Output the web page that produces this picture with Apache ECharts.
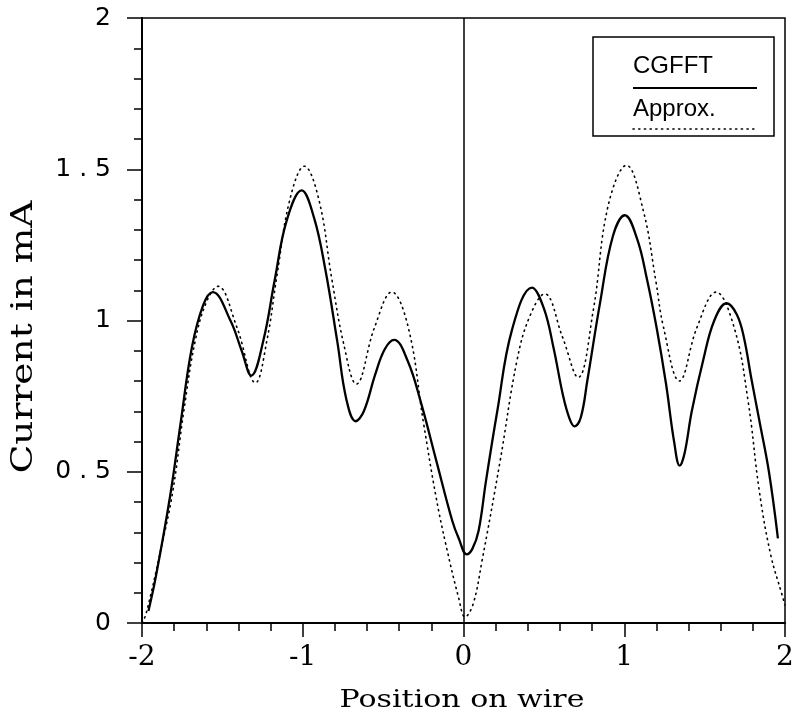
<!DOCTYPE html>
<html>
<head>
<meta charset="utf-8">
<script src="https://cdn.jsdelivr.net/npm/echarts@6/dist/echarts.min.js"></script>
<style>
html,body{margin:0;padding:0;background:#fff;}
#chart{width:798px;height:722px;}
</style>
</head>
<body>
<div id="chart"></div>
<script>
// CGFFT (solid) curve
const cgfftX = [-1.96,-1.915,-1.825,-1.76,-1.69,-1.62,-1.56,-1.45,-1.38,-1.32,-1.245,-1.175,-1.10,-1.007,-0.93,-0.86,-0.785,-0.729,-0.671,-0.62,-0.55,-0.49,-0.431,-0.347,-0.268,-0.169,-0.07,-0.03,0.02,0.055,0.094,0.14,0.21,0.302,0.426,0.50,0.56,0.62,0.66,0.691,0.73,0.77,0.85,0.93,1.004,1.08,1.14,1.20,1.26,1.31,1.345,1.375,1.42,1.49,1.56,1.637,1.70,1.744,1.79,1.84,1.90,1.956];
const cgfftY = [0.04,0.15,0.42,0.66,0.91,1.05,1.094,1.0,0.90,0.818,0.934,1.132,1.33,1.43,1.34,1.17,0.93,0.74,0.667,0.70,0.82,0.905,0.936,0.866,0.735,0.536,0.338,0.28,0.227,0.245,0.305,0.47,0.70,0.97,1.109,1.04,0.91,0.75,0.675,0.65,0.68,0.80,1.06,1.28,1.348,1.27,1.14,0.98,0.79,0.60,0.52,0.56,0.70,0.866,1.00,1.057,1.02,0.945,0.81,0.67,0.50,0.28];
// Approx. (dotted) curve
const approxX = [-2.0,-1.975,-1.88,-1.81,-1.74,-1.67,-1.60,-1.528,-1.41,-1.294,-1.223,-1.16,-1.08,-0.99,-0.90,-0.82,-0.745,-0.667,-0.553,-0.446,-0.344,-0.249,-0.172,-0.11,-0.03,0.01,0.06,0.115,0.228,0.332,0.41,0.505,0.616,0.713,0.807,0.90,1.014,1.12,1.196,1.244,1.343,1.453,1.571,1.683,1.77,1.84,1.91,1.98,2.0];
const approxY = [0.0,0.03,0.25,0.43,0.70,0.93,1.06,1.113,0.978,0.794,0.934,1.15,1.40,1.51,1.40,1.14,0.922,0.79,0.978,1.094,0.978,0.662,0.42,0.26,0.083,0.02,0.063,0.205,0.536,0.866,1.011,1.088,0.945,0.812,1.033,1.38,1.513,1.36,1.132,0.978,0.80,0.978,1.094,0.978,0.735,0.437,0.228,0.096,0.06];
const xTicks = [-2,-1,0,1,2];
const yTicks = [0,0.5,1,1.5,2];
const seriesNames = ['CGFFT','Approx.'];
const xTitle = 'Position on wire';
const yTitle = 'Current in mA';

const pairs = (xs, ys) => xs.map((x, i) => [x, ys[i]]);

const chart = echarts.init(document.getElementById('chart'), null, {renderer:'canvas'});
const serif = '"DejaVu Serif", serif';
const sans = '"DejaVu Sans", sans-serif';

chart.setOption({
  animation: false,
  backgroundColor: '#fff',
  grid: {left: 142, right: 13, top: 18, bottom: 99, show: true, borderColor: '#000', borderWidth: 1.5, backgroundColor: 'transparent'},
  xAxis: {
    type: 'value', min: xTicks[0], max: xTicks[xTicks.length-1], interval: 1,
    axisLine: {show: true, onZero: false, lineStyle: {color: '#000', width: 2}},
    axisTick: {show: true, inside: false, length: 14, lineStyle: {color: '#000', width: 1.5}},
    minorTick: {show: true, splitNumber: 5, length: 8, lineStyle: {color: '#000', width: 1.5}},
    splitLine: {show: false},
    axisLabel: {fontFamily: serif, fontSize: 28, color: '#000', margin: 21, showMaxLabel: true, showMinLabel: true}
  },
  yAxis: {
    type: 'value', min: yTicks[0], max: yTicks[yTicks.length-1], interval: 0.5,
    axisLine: {show: true, onZero: false, lineStyle: {color: '#000', width: 2}},
    axisTick: {show: true, inside: false, length: 15, lineStyle: {color: '#000', width: 1.5}},
    minorTick: {show: true, splitNumber: 5, length: 8, lineStyle: {color: '#000', width: 1.5}},
    splitLine: {show: false},
    axisLabel: {fontFamily: sans, fontSize: 25, color: '#000', margin: 31,
      formatter: v => String(v).replace('.', ' . ')}
  },
  series: [
    {
      name: seriesNames[1], type: 'line', data: pairs(approxX, approxY),
      showSymbol: false, smooth: 0.4, clip: true,
      lineStyle: {color: '#000', width: 1.6, type: [1.2, 4.5], cap: 'round'}
    },
    {
      name: seriesNames[0], type: 'line', data: pairs(cgfftX, cgfftY),
      showSymbol: false, smooth: 0.4, clip: true,
      lineStyle: {color: '#000', width: 2.3},
      markLine: {silent: true, symbol: 'none', label: {show: false},
        lineStyle: {color: '#000', width: 1.5, type: 'solid'},
        data: [{xAxis: 0}]}
    }
  ],
  graphic: [
    {type: 'text', x: 462, y: 700, style: {text: xTitle, font: '25px ' + serif, fill: '#000', align: 'center', verticalAlign: 'middle'}, scaleX: 1.2},
    {type: 'text', x: 24, y: 337, rotation: Math.PI / 2, style: {text: yTitle, font: '30px ' + serif, fill: '#000', align: 'center', verticalAlign: 'middle'}, scaleX: 1.25},
    {type: 'rect', shape: {x: 593, y: 37, width: 181, height: 99},
     style: {fill: '#fff', stroke: '#000', lineWidth: 1.5}},
    {type: 'text', x: 633, y: 54, style: {text: seriesNames[0], font: '24px "Liberation Sans", sans-serif', fill: '#000'}},
    {type: 'line', shape: {x1: 633, y1: 88, x2: 757, y2: 88}, style: {stroke: '#000', lineWidth: 2.2}},
    {type: 'text', x: 633, y: 97, style: {text: seriesNames[1], font: '24px "Liberation Sans", sans-serif', fill: '#000'}},
    {type: 'line', shape: {x1: 633, y1: 129, x2: 757, y2: 129}, style: {stroke: '#000', lineWidth: 1.6, lineDash: [1.2, 4.5], lineCap: 'round'}}
  ]
});
</script>
</body>
</html>
